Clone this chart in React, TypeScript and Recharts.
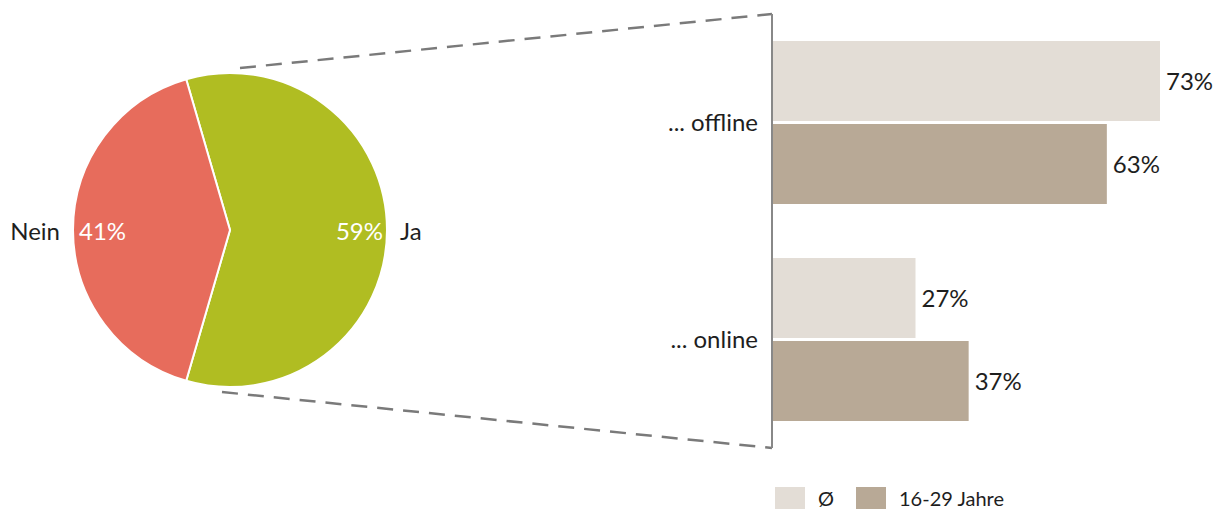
import { PieChart, Pie, Cell, BarChart, Bar, XAxis, YAxis, LabelList } from 'recharts'

const answers = ['Ja', 'Nein']
const answerShares = [59, 41]
const answerColors = ['#b0bd22', '#e76c5c']

const channels = ['... offline', '... online']
const avgValues = [73, 27]
const youngValues = [63, 37]
const seriesNames = ['Ø', '16-29 Jahre']
const seriesColors = ['#e3ddd6', '#b8a996']

const FONT = 'Lato, "Open Sans", sans-serif'
const TEXT = '#1e1e1e'
const WEIGHT = 400

const pieData = answers.map((name, i) => ({ name, value: answerShares[i] }))
const barData = channels.map((name, i) => ({ name, avg: avgValues[i], young: youngValues[i] }))

const RAD = Math.PI / 180

function pieLabel(props: any) {
  const { cx, cy, midAngle, outerRadius, name, value } = props
  const cos = Math.cos(-midAngle * RAD)
  const right = cos > 0
  const inX = cx + (outerRadius - (right ? 4 : 6)) * cos
  const outX = cx + (outerRadius + 13) * cos
  return (
    <g>
      <text x={inX} y={cy} fill="#fff" fontSize={24} fontFamily={FONT} fontWeight={WEIGHT}
        textAnchor={right ? 'end' : 'start'} dominantBaseline="central">{value}%</text>
      <text x={outX} y={cy} fill={TEXT} fontSize={24} fontFamily={FONT} fontWeight={WEIGHT}
        textAnchor={right ? 'start' : 'end'} dominantBaseline="central">{name}</text>
    </g>
  )
}

// start so the green slice sits symmetric around 3 o'clock
const startAngle = (answerShares[0] / 100) * 180

export default function App() {
  return (
    <div style={{ position: 'absolute', left: 0, top: 0, width: 1216, height: 510, overflow: 'hidden', background: '#fff' }}>
      <svg width={1216} height={510} style={{ position: 'absolute', left: 0, top: 0 }}>
        <g stroke="#7a7a7a" strokeWidth={2.5} fill="none" strokeDasharray="16 10">
          <polyline points="240,68 772,14" />
          <polyline points="222,392 772,448" />
        </g>
      </svg>

      <div style={{ position: 'absolute', left: 0, top: 0 }}>
        <PieChart width={460} height={460} margin={{ top: 0, right: 0, bottom: 0, left: 0 }}>
          <Pie
            data={pieData}
            dataKey="value"
            nameKey="name"
            cx={230}
            cy={230}
            outerRadius={157}
            startAngle={startAngle}
            endAngle={startAngle - 360}
            stroke="#fff"
            strokeWidth={2}
            label={pieLabel}
            labelLine={false}
            isAnimationActive={false}
          >
            {pieData.map((d, i) => (
              <Cell key={d.name} fill={answerColors[i]} />
            ))}
          </Pie>
        </PieChart>
      </div>

      <div style={{ position: 'absolute', left: 560, top: 0 }}>
        <BarChart
          width={656}
          height={470}
          data={barData}
          layout="vertical"
          margin={{ top: 14, right: 18.8, left: 0, bottom: 22 }}
          barGap={3}
        >
          <XAxis type="number" domain={[0, 80]} hide />
          <YAxis
            type="category"
            dataKey="name"
            width={212}
            tickLine={false}
            tickMargin={8}
            axisLine={{ stroke: '#888', strokeWidth: 2 }}
            tick={{ fill: TEXT, fontSize: 24, fontFamily: FONT, fontWeight: WEIGHT }}
          />
          <Bar dataKey="avg" name={seriesNames[0]} fill={seriesColors[0]} barSize={80} isAnimationActive={false}>
            <LabelList dataKey="avg" position="right" offset={6} formatter={(v: any) => `${v}%`}
              style={{ fill: TEXT, fontSize: 24, fontFamily: FONT, fontWeight: WEIGHT }} />
          </Bar>
          <Bar dataKey="young" name={seriesNames[1]} fill={seriesColors[1]} barSize={80} isAnimationActive={false}>
            <LabelList dataKey="young" position="right" offset={6} formatter={(v: any) => `${v}%`}
              style={{ fill: TEXT, fontSize: 24, fontFamily: FONT, fontWeight: WEIGHT }} />
          </Bar>
        </BarChart>
      </div>

      <div style={{ position: 'absolute', left: 775, top: 487, display: 'flex', alignItems: 'center', fontFamily: FONT, fontWeight: WEIGHT, fontSize: 20, color: TEXT, lineHeight: '22px' }}>
        {seriesNames.map((n, i) => (
          <div key={n} style={{ display: 'flex', alignItems: 'center', marginRight: i === 0 ? 22 : 0 }}>
            <span style={{ width: 30, height: 22, background: seriesColors[i], display: 'inline-block', marginRight: 13 }} />
            <span>{n}</span>
          </div>
        ))}
      </div>
    </div>
  )
}
